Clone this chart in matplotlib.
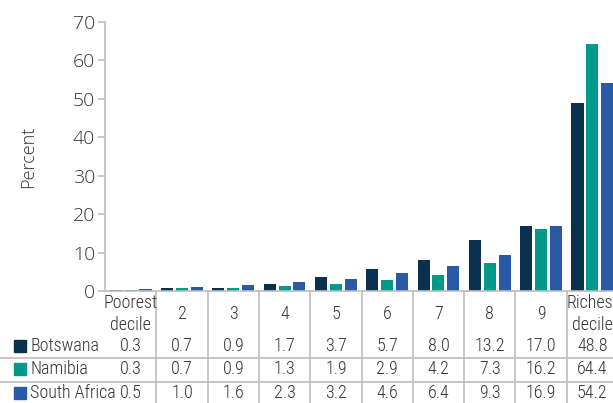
import matplotlib
matplotlib.use("Agg")
import matplotlib.pyplot as plt
from matplotlib import font_manager
from matplotlib.transforms import blended_transform_factory
from matplotlib.lines import Line2D
from matplotlib.patches import Rectangle

categories = ["Poorest\ndecile", "2", "3", "4", "5", "6", "7", "8", "9", "Richest\ndecile"]
series_names = ["Botswana", "Namibia", "South Africa"]
botswana = [0.3, 0.7, 0.9, 1.7, 3.7, 5.7, 8.0, 13.2, 17.0, 48.8]
namibia = [0.3, 0.7, 0.9, 1.3, 1.9, 2.9, 4.2, 7.3, 16.2, 64.4]
south_africa = [0.5, 1.0, 1.6, 2.3, 3.2, 4.6, 6.4, 9.3, 16.9, 54.2]
series = [botswana, namibia, south_africa]
colors = ["#0b3150", "#00998a", "#2a5aa6"]
yticks = [0, 10, 20, 30, 40, 50, 60, 70]

available = {f.name for f in font_manager.fontManager.ttflist}
def pick(cands):
    for c in cands:
        if c in available:
            return [c, "DejaVu Sans"]
    return ["DejaVu Sans"]

table_font = pick(["Roboto Condensed", "Fira Sans Condensed", "PT Sans Narrow",
                   "Open Sans Condensed", "Barlow Semi Condensed", "Asap Condensed",
                   "Barlow Condensed", "Archivo Narrow"])
tick_font = pick(["Open Sans", "Noto Sans", "DejaVu Sans"])

W, H = 613, 403
fig = plt.figure(figsize=(W / 100, H / 100), dpi=100)
x0, x1 = 105, 618
y0, y1 = 291, 22
ax = fig.add_axes([x0 / W, 1 - y0 / H, (x1 - x0) / W, (y0 - y1) / H])

txt_color = "#333333"
grid_color = "#bdbdbd"

n = len(categories)
xs = list(range(n))
width = 0.235
offsets = [-0.29, 0.0, 0.29]
for vals, off, col in zip(series, offsets, colors):
    ax.bar([x + off for x in xs], vals, width=width, color=col, zorder=2)

ax.set_xlim(-0.5, n - 0.5)
ax.set_ylim(0, 70)
ax.set_yticks(yticks)
ax.set_yticklabels([str(t) for t in yticks], family=tick_font, fontsize=14,
                   color=txt_color, weight="light")
ax.set_xticks([])
for s in ["top", "right"]:
    ax.spines[s].set_visible(False)
for s in ["left", "bottom"]:
    ax.spines[s].set_color(grid_color)
    ax.spines[s].set_linewidth(1.2)
ax.tick_params(axis="y", length=5, width=1.2, color=grid_color, pad=2)
ax.set_ylabel("Percent", family=tick_font, fontsize=13, color=txt_color,
              weight="light", labelpad=26)

trans = blended_transform_factory(ax.transData, fig.transFigure)

def fy(py):
    return 1 - py / H

for i in range(n - 1):
    fig.add_artist(Line2D([i + 0.5, i + 0.5], [fy(291), fy(403)], transform=trans,
                          color=grid_color, lw=1.2))
for py in [357.5, 381.5]:
    fig.add_artist(Line2D([0, 1], [fy(py), fy(py)], transform=fig.transFigure,
                          color=grid_color, lw=1.2))

tsize = 13
for i, c in enumerate(categories):
    fig.text(i, fy(314), c, transform=trans, ha="center", va="center",
             family=table_font, fontsize=tsize, color=txt_color, linespacing=1.25,
             weight="light")

row_y = [346, 369, 393]
for name, vals, col, py in zip(series_names, series, colors, row_y):
    fig.add_artist(Rectangle((14 / W, fy(py + 6)), 12 / W, 12 / H,
                             transform=fig.transFigure, color=col))
    fig.text(30 / W, fy(py), name, ha="left", va="center",
             family=table_font, fontsize=tsize, color=txt_color, weight="light")
    for i, v in enumerate(vals):
        fig.text(i, fy(py), f"{v:.1f}", transform=trans, ha="center", va="center",
                 family=table_font, fontsize=tsize, color=txt_color, weight="light")

fig.savefig("out.png", dpi=100)
